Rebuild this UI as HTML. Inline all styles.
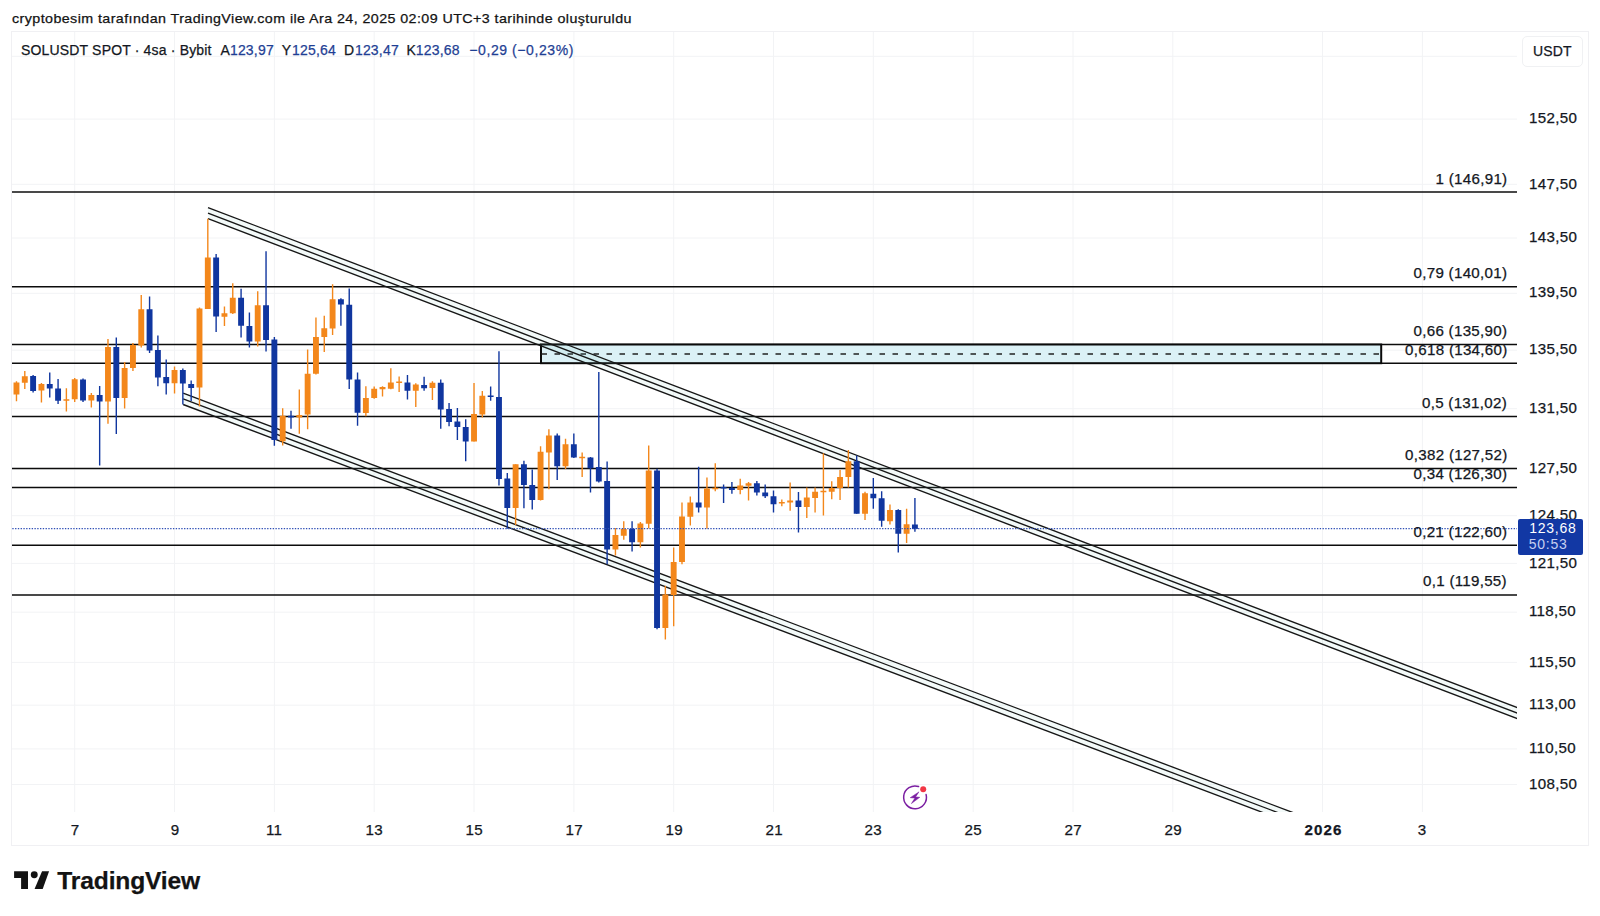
<!DOCTYPE html>
<html lang="tr"><head><meta charset="utf-8"><title>SOLUSDT SPOT</title><style>
html,body{margin:0;padding:0;background:#fff}
body{width:1600px;height:916px;position:relative;overflow:hidden;font-family:"Liberation Sans", Arial, sans-serif;color:#131722}
.t{position:absolute;white-space:nowrap;line-height:16px;font-size:14px;-webkit-text-stroke:0.25px currentColor}
.hdr{font-size:13.6px;letter-spacing:0.4px;color:#131313;transform:scaleX(1.05);transform-origin:0 0}
.leg{font-size:14px;letter-spacing:0.2px}
.t1{letter-spacing:0.17px}
.chg{letter-spacing:0.58px}
.k{color:#131722}.b{color:#1f3f94}
.usdt{position:absolute;left:1522.1px;top:36.4px;width:61px;height:30.4px;border:1px solid #f0f1f3;border-radius:5px;box-sizing:border-box;font-size:14px;line-height:29.4px;text-align:center;letter-spacing:0.1px;color:#131722;-webkit-text-stroke:0.25px currentColor;text-indent:-0.5px}
.pl{font-size:14.4px;letter-spacing:0.3px;color:#131722;transform:scaleX(1.05);transform-origin:0 0}
.fl{font-size:14.4px;letter-spacing:0.28px;color:#131722;text-align:right;transform:scaleX(1.05);transform-origin:right top}
.ptag{position:absolute;left:1518.2px;top:518.9px;width:65.1px;height:36.2px;background:#1238A4;border-radius:2px;color:#fff;font-size:14px;letter-spacing:0.75px}
.ptag .p1{position:absolute;left:11px;top:1px;line-height:16px}
.ptag .p2{position:absolute;left:10.5px;top:17.6px;line-height:16px;color:#c5cff0}
.tl{width:60px;text-align:center;font-size:14.4px;letter-spacing:0.35px;text-indent:0.35px;transform:scaleX(1.05)}
.logo{font-size:24.6px;font-weight:bold;line-height:28px;letter-spacing:-0.15px;color:#131313}
</style></head><body>
<svg width="1600" height="916" viewBox="0 0 1600 916" style="position:absolute;left:0;top:0">
<g stroke="#f2f3f5" stroke-width="1" fill="none">
<path d="M74.7 32 V812"/>
<path d="M174.5 32 V812"/>
<path d="M274.4 32 V812"/>
<path d="M374.2 32 V812"/>
<path d="M474.0 32 V812"/>
<path d="M573.9 32 V812"/>
<path d="M673.7 32 V812"/>
<path d="M773.5 32 V812"/>
<path d="M873.3 32 V812"/>
<path d="M973.2 32 V812"/>
<path d="M1073.0 32 V812"/>
<path d="M1172.8 32 V812"/>
<path d="M1322.5 32 V812"/>
<path d="M1422.4 32 V812"/>
<path d="M12 56.3 H1517"/>
<path d="M12 119.1 H1517"/>
<path d="M12 184.3 H1517"/>
<path d="M12 238.0 H1517"/>
<path d="M12 293.3 H1517"/>
<path d="M12 350.2 H1517"/>
<path d="M12 408.7 H1517"/>
<path d="M12 469.1 H1517"/>
<path d="M12 515.7 H1517"/>
<path d="M12 563.4 H1517"/>
<path d="M12 612.2 H1517"/>
<path d="M12 662.4 H1517"/>
<path d="M12 705.2 H1517"/>
<path d="M12 748.9 H1517"/>
<path d="M12 784.5 H1517"/>
</g>
<rect x="11.5" y="31.5" width="1577" height="814" fill="none" stroke="#f0f0f3" stroke-width="1"/>
<defs><clipPath id="pane"><rect x="12" y="32" width="1505" height="780"/></clipPath></defs>
<g clip-path="url(#pane)">
<g stroke="#0c0c0c" stroke-width="1.5">
<path d="M12 192.1 H1517"/>
<path d="M12 286.7 H1517"/>
<path d="M12 344.5 H1517"/>
<path d="M12 363.3 H1517"/>
<path d="M12 416.6 H1517"/>
<path d="M12 468.4 H1517"/>
<path d="M12 487.5 H1517"/>
<path d="M12 545.3 H1517"/>
<path d="M12 595.0 H1517"/>
</g>
<rect x="541" y="344.5" width="840.2" height="18.7" fill="#DBF1F6" stroke="#0a0a0a" stroke-width="2"/>
<path d="M541.5 354 H1380" stroke="#222" stroke-width="1.5" stroke-dasharray="5.5 7.5" fill="none"/>
<path d="M208.00 207.55 L1530.00 712.49 L1530.00 723.54 L208.00 218.60 Z" fill="#7fc4b8" fill-opacity="0.09" stroke="none"/>
<path d="M208.00 207.55 L1530.00 712.49" stroke="#161616" stroke-width="1.35" fill="none"/>
<path d="M208.00 213.10 L1530.00 718.04" stroke="#161616" stroke-width="1.35" fill="none"/>
<path d="M208.00 218.60 L1530.00 723.54" stroke="#161616" stroke-width="1.35" fill="none"/>
<path d="M183.15 393.15 L1320.00 822.77 L1320.00 834.12 L183.15 404.50 Z" fill="#7fc4b8" fill-opacity="0.09" stroke="none"/>
<path d="M183.15 393.15 L1320.00 822.77" stroke="#161616" stroke-width="1.35" fill="none"/>
<path d="M183.15 398.90 L1320.00 828.52" stroke="#161616" stroke-width="1.35" fill="none"/>
<path d="M183.15 404.50 L1320.00 834.12" stroke="#161616" stroke-width="1.35" fill="none"/>
<path d="M16.47 381.25 V401.25" stroke="#F3871B" stroke-width="1.4"/>
<rect x="13.52" y="382.50" width="5.90" height="12.00" fill="#F3871B"/>
<path d="M24.79 371.00 V389.00" stroke="#F3871B" stroke-width="1.4"/>
<rect x="21.84" y="376.25" width="5.90" height="6.50" fill="#F3871B"/>
<path d="M33.11 375.00 V392.50" stroke="#10369F" stroke-width="1.4"/>
<rect x="30.16" y="376.00" width="5.90" height="15.00" fill="#10369F"/>
<path d="M41.43 383.00 V402.50" stroke="#F3871B" stroke-width="1.4"/>
<rect x="38.48" y="384.00" width="5.90" height="6.50" fill="#F3871B"/>
<path d="M49.75 372.50 V397.50" stroke="#10369F" stroke-width="1.4"/>
<rect x="46.80" y="384.00" width="5.90" height="4.50" fill="#10369F"/>
<path d="M58.07 379.00 V404.00" stroke="#10369F" stroke-width="1.4"/>
<rect x="55.12" y="388.50" width="5.90" height="12.25" fill="#10369F"/>
<path d="M66.38 388.25 V411.50" stroke="#F3871B" stroke-width="1.4"/>
<rect x="63.43" y="399.25" width="5.90" height="1.50" fill="#F3871B"/>
<path d="M74.70 378.00 V402.00" stroke="#F3871B" stroke-width="1.4"/>
<rect x="71.75" y="379.25" width="5.90" height="20.00" fill="#F3871B"/>
<path d="M83.02 378.50 V402.00" stroke="#10369F" stroke-width="1.4"/>
<rect x="80.07" y="379.50" width="5.90" height="21.00" fill="#10369F"/>
<path d="M91.34 393.00 V407.50" stroke="#F3871B" stroke-width="1.4"/>
<rect x="88.39" y="395.00" width="5.90" height="5.50" fill="#F3871B"/>
<path d="M99.66 386.00 V465.50" stroke="#10369F" stroke-width="1.4"/>
<rect x="96.71" y="395.00" width="5.90" height="6.50" fill="#10369F"/>
<path d="M107.98 339.00 V423.75" stroke="#F3871B" stroke-width="1.4"/>
<rect x="105.03" y="347.00" width="5.90" height="54.50" fill="#F3871B"/>
<path d="M116.30 337.50 V434.00" stroke="#10369F" stroke-width="1.4"/>
<rect x="113.35" y="347.00" width="5.90" height="51.00" fill="#10369F"/>
<path d="M124.62 362.00 V408.50" stroke="#F3871B" stroke-width="1.4"/>
<rect x="121.67" y="368.00" width="5.90" height="30.00" fill="#F3871B"/>
<path d="M132.94 343.00 V371.00" stroke="#F3871B" stroke-width="1.4"/>
<rect x="129.99" y="345.00" width="5.90" height="23.00" fill="#F3871B"/>
<path d="M141.25 295.00 V347.50" stroke="#F3871B" stroke-width="1.4"/>
<rect x="138.31" y="309.25" width="5.90" height="36.25" fill="#F3871B"/>
<path d="M149.57 296.50 V353.00" stroke="#10369F" stroke-width="1.4"/>
<rect x="146.62" y="309.25" width="5.90" height="41.25" fill="#10369F"/>
<path d="M157.89 335.50 V386.25" stroke="#10369F" stroke-width="1.4"/>
<rect x="154.94" y="350.00" width="5.90" height="27.50" fill="#10369F"/>
<path d="M166.21 359.50 V394.50" stroke="#10369F" stroke-width="1.4"/>
<rect x="163.26" y="377.00" width="5.90" height="6.25" fill="#10369F"/>
<path d="M174.53 366.50 V393.50" stroke="#F3871B" stroke-width="1.4"/>
<rect x="171.58" y="370.00" width="5.90" height="13.25" fill="#F3871B"/>
<path d="M182.85 368.50 V404.50" stroke="#10369F" stroke-width="1.4"/>
<rect x="179.90" y="370.00" width="5.90" height="13.50" fill="#10369F"/>
<path d="M191.17 380.50 V401.00" stroke="#10369F" stroke-width="1.4"/>
<rect x="188.22" y="384.00" width="5.90" height="4.00" fill="#10369F"/>
<path d="M199.49 307.50 V406.50" stroke="#F3871B" stroke-width="1.4"/>
<rect x="196.54" y="308.50" width="5.90" height="79.00" fill="#F3871B"/>
<path d="M207.81 218.75 V309.00" stroke="#F3871B" stroke-width="1.4"/>
<rect x="204.86" y="257.50" width="5.90" height="51.50" fill="#F3871B"/>
<path d="M216.13 254.00 V332.00" stroke="#10369F" stroke-width="1.4"/>
<rect x="213.18" y="257.50" width="5.90" height="59.00" fill="#10369F"/>
<path d="M224.45 306.50 V326.00" stroke="#F3871B" stroke-width="1.4"/>
<rect x="221.50" y="313.25" width="5.90" height="3.50" fill="#F3871B"/>
<path d="M232.76 283.25 V314.00" stroke="#F3871B" stroke-width="1.4"/>
<rect x="229.81" y="297.75" width="5.90" height="15.50" fill="#F3871B"/>
<path d="M241.08 288.75 V337.50" stroke="#10369F" stroke-width="1.4"/>
<rect x="238.13" y="297.75" width="5.90" height="28.00" fill="#10369F"/>
<path d="M249.40 312.50 V347.50" stroke="#10369F" stroke-width="1.4"/>
<rect x="246.45" y="326.00" width="5.90" height="15.50" fill="#10369F"/>
<path d="M257.72 291.25 V346.50" stroke="#F3871B" stroke-width="1.4"/>
<rect x="254.77" y="305.25" width="5.90" height="36.25" fill="#F3871B"/>
<path d="M266.04 251.25 V351.50" stroke="#10369F" stroke-width="1.4"/>
<rect x="263.09" y="305.25" width="5.90" height="34.75" fill="#10369F"/>
<path d="M274.36 337.00 V445.75" stroke="#10369F" stroke-width="1.4"/>
<rect x="271.41" y="339.50" width="5.90" height="100.50" fill="#10369F"/>
<path d="M282.68 408.25 V445.50" stroke="#F3871B" stroke-width="1.4"/>
<rect x="279.73" y="415.75" width="5.90" height="25.50" fill="#F3871B"/>
<path d="M291.00 410.75 V428.75" stroke="#10369F" stroke-width="1.4"/>
<rect x="288.05" y="415.75" width="5.90" height="1.75" fill="#10369F"/>
<path d="M299.32 389.50 V433.75" stroke="#F3871B" stroke-width="1.4"/>
<rect x="296.37" y="415.00" width="5.90" height="2.50" fill="#F3871B"/>
<path d="M307.63 349.50 V429.25" stroke="#F3871B" stroke-width="1.4"/>
<rect x="304.69" y="373.75" width="5.90" height="40.75" fill="#F3871B"/>
<path d="M315.95 317.50 V374.50" stroke="#F3871B" stroke-width="1.4"/>
<rect x="313.00" y="337.00" width="5.90" height="36.75" fill="#F3871B"/>
<path d="M324.27 315.75 V352.00" stroke="#F3871B" stroke-width="1.4"/>
<rect x="321.32" y="328.25" width="5.90" height="8.75" fill="#F3871B"/>
<path d="M332.59 284.25 V335.00" stroke="#F3871B" stroke-width="1.4"/>
<rect x="329.64" y="299.25" width="5.90" height="29.25" fill="#F3871B"/>
<path d="M340.91 298.25 V325.75" stroke="#10369F" stroke-width="1.4"/>
<rect x="337.96" y="299.25" width="5.90" height="5.25" fill="#10369F"/>
<path d="M349.23 288.50 V389.00" stroke="#10369F" stroke-width="1.4"/>
<rect x="346.28" y="304.75" width="5.90" height="74.75" fill="#10369F"/>
<path d="M357.55 372.50 V425.75" stroke="#10369F" stroke-width="1.4"/>
<rect x="354.60" y="379.50" width="5.90" height="33.25" fill="#10369F"/>
<path d="M365.87 386.25 V416.25" stroke="#F3871B" stroke-width="1.4"/>
<rect x="362.92" y="398.00" width="5.90" height="15.00" fill="#F3871B"/>
<path d="M374.19 386.50 V398.75" stroke="#F3871B" stroke-width="1.4"/>
<rect x="371.24" y="388.75" width="5.90" height="9.25" fill="#F3871B"/>
<path d="M382.51 386.25 V396.50" stroke="#F3871B" stroke-width="1.4"/>
<rect x="379.56" y="387.00" width="5.90" height="2.25" fill="#F3871B"/>
<path d="M390.83 368.25 V389.25" stroke="#F3871B" stroke-width="1.4"/>
<rect x="387.88" y="382.50" width="5.90" height="6.25" fill="#F3871B"/>
<path d="M399.14 376.50 V392.00" stroke="#F3871B" stroke-width="1.4"/>
<rect x="396.19" y="381.50" width="5.90" height="1.50" fill="#F3871B"/>
<path d="M407.46 375.00 V399.50" stroke="#10369F" stroke-width="1.4"/>
<rect x="404.51" y="382.50" width="5.90" height="8.25" fill="#10369F"/>
<path d="M415.78 383.25 V407.00" stroke="#F3871B" stroke-width="1.4"/>
<rect x="412.83" y="384.50" width="5.90" height="6.25" fill="#F3871B"/>
<path d="M424.10 376.75 V390.75" stroke="#10369F" stroke-width="1.4"/>
<rect x="421.15" y="385.00" width="5.90" height="3.25" fill="#10369F"/>
<path d="M432.42 381.25 V400.00" stroke="#F3871B" stroke-width="1.4"/>
<rect x="429.47" y="382.75" width="5.90" height="5.25" fill="#F3871B"/>
<path d="M440.74 379.50 V428.75" stroke="#10369F" stroke-width="1.4"/>
<rect x="437.79" y="382.75" width="5.90" height="26.75" fill="#10369F"/>
<path d="M449.06 403.00 V426.25" stroke="#10369F" stroke-width="1.4"/>
<rect x="446.11" y="409.00" width="5.90" height="13.00" fill="#10369F"/>
<path d="M457.38 408.00 V440.00" stroke="#10369F" stroke-width="1.4"/>
<rect x="454.43" y="421.50" width="5.90" height="5.50" fill="#10369F"/>
<path d="M465.70 419.25 V461.25" stroke="#10369F" stroke-width="1.4"/>
<rect x="462.75" y="427.00" width="5.90" height="14.50" fill="#10369F"/>
<path d="M474.02 383.00 V441.50" stroke="#F3871B" stroke-width="1.4"/>
<rect x="471.07" y="414.00" width="5.90" height="27.50" fill="#F3871B"/>
<path d="M482.33 391.00 V417.50" stroke="#F3871B" stroke-width="1.4"/>
<rect x="479.38" y="395.75" width="5.90" height="18.75" fill="#F3871B"/>
<path d="M490.65 386.50 V400.75" stroke="#10369F" stroke-width="1.4"/>
<rect x="487.70" y="395.50" width="5.90" height="1.50" fill="#10369F"/>
<path d="M498.97 351.25 V485.50" stroke="#10369F" stroke-width="1.4"/>
<rect x="496.02" y="397.00" width="5.90" height="82.00" fill="#10369F"/>
<path d="M507.29 473.00 V528.75" stroke="#10369F" stroke-width="1.4"/>
<rect x="504.34" y="478.50" width="5.90" height="29.50" fill="#10369F"/>
<path d="M515.61 464.25 V525.00" stroke="#F3871B" stroke-width="1.4"/>
<rect x="512.66" y="464.25" width="5.90" height="43.75" fill="#F3871B"/>
<path d="M523.93 460.75 V508.25" stroke="#10369F" stroke-width="1.4"/>
<rect x="520.98" y="464.25" width="5.90" height="20.75" fill="#10369F"/>
<path d="M532.25 469.50 V509.50" stroke="#10369F" stroke-width="1.4"/>
<rect x="529.30" y="485.00" width="5.90" height="15.00" fill="#10369F"/>
<path d="M540.57 446.25 V500.50" stroke="#F3871B" stroke-width="1.4"/>
<rect x="537.62" y="451.75" width="5.90" height="48.25" fill="#F3871B"/>
<path d="M548.89 429.25 V489.25" stroke="#F3871B" stroke-width="1.4"/>
<rect x="545.94" y="435.50" width="5.90" height="17.00" fill="#F3871B"/>
<path d="M557.21 433.50 V480.00" stroke="#10369F" stroke-width="1.4"/>
<rect x="554.25" y="435.50" width="5.90" height="30.75" fill="#10369F"/>
<path d="M565.52 438.75 V469.00" stroke="#F3871B" stroke-width="1.4"/>
<rect x="562.57" y="444.25" width="5.90" height="22.00" fill="#F3871B"/>
<path d="M573.84 433.50 V458.00" stroke="#10369F" stroke-width="1.4"/>
<rect x="570.89" y="444.25" width="5.90" height="13.25" fill="#10369F"/>
<path d="M582.16 452.50 V477.00" stroke="#F3871B" stroke-width="1.4"/>
<rect x="579.21" y="456.75" width="5.90" height="1.50" fill="#F3871B"/>
<path d="M590.48 457.00 V492.50" stroke="#10369F" stroke-width="1.4"/>
<rect x="587.53" y="457.50" width="5.90" height="10.75" fill="#10369F"/>
<path d="M598.80 372.00 V482.50" stroke="#10369F" stroke-width="1.4"/>
<rect x="595.85" y="467.00" width="5.90" height="14.50" fill="#10369F"/>
<path d="M607.12 461.50 V564.25" stroke="#10369F" stroke-width="1.4"/>
<rect x="604.17" y="481.00" width="5.90" height="68.50" fill="#10369F"/>
<path d="M615.44 528.00 V555.50" stroke="#F3871B" stroke-width="1.4"/>
<rect x="612.49" y="535.00" width="5.90" height="14.50" fill="#F3871B"/>
<path d="M623.76 521.25 V539.75" stroke="#F3871B" stroke-width="1.4"/>
<rect x="620.81" y="529.00" width="5.90" height="6.75" fill="#F3871B"/>
<path d="M632.08 521.25 V551.50" stroke="#10369F" stroke-width="1.4"/>
<rect x="629.13" y="528.75" width="5.90" height="13.50" fill="#10369F"/>
<path d="M640.40 522.00 V547.50" stroke="#F3871B" stroke-width="1.4"/>
<rect x="637.45" y="523.50" width="5.90" height="18.75" fill="#F3871B"/>
<path d="M648.71 445.50 V528.50" stroke="#F3871B" stroke-width="1.4"/>
<rect x="645.76" y="470.50" width="5.90" height="53.25" fill="#F3871B"/>
<path d="M657.03 468.75 V629.25" stroke="#10369F" stroke-width="1.4"/>
<rect x="654.08" y="470.50" width="5.90" height="157.50" fill="#10369F"/>
<path d="M665.35 585.75 V639.50" stroke="#F3871B" stroke-width="1.4"/>
<rect x="662.40" y="594.50" width="5.90" height="33.50" fill="#F3871B"/>
<path d="M673.67 547.50 V626.25" stroke="#F3871B" stroke-width="1.4"/>
<rect x="670.72" y="562.00" width="5.90" height="33.00" fill="#F3871B"/>
<path d="M681.99 502.50 V564.25" stroke="#F3871B" stroke-width="1.4"/>
<rect x="679.04" y="516.50" width="5.90" height="45.50" fill="#F3871B"/>
<path d="M690.31 496.50 V525.50" stroke="#F3871B" stroke-width="1.4"/>
<rect x="687.36" y="502.50" width="5.90" height="14.25" fill="#F3871B"/>
<path d="M698.63 466.75 V512.50" stroke="#10369F" stroke-width="1.4"/>
<rect x="695.68" y="502.50" width="5.90" height="5.00" fill="#10369F"/>
<path d="M706.95 477.50 V528.75" stroke="#F3871B" stroke-width="1.4"/>
<rect x="704.00" y="488.50" width="5.90" height="19.00" fill="#F3871B"/>
<path d="M715.27 463.25 V491.25" stroke="#F3871B" stroke-width="1.4"/>
<rect x="712.32" y="487.75" width="5.90" height="1.50" fill="#F3871B"/>
<path d="M723.59 484.50 V503.00" stroke="#10369F" stroke-width="1.4"/>
<rect x="720.64" y="487.00" width="5.90" height="1.50" fill="#10369F"/>
<path d="M731.90 482.00 V493.75" stroke="#10369F" stroke-width="1.4"/>
<rect x="728.95" y="488.00" width="5.90" height="2.00" fill="#10369F"/>
<path d="M740.22 478.75 V494.25" stroke="#F3871B" stroke-width="1.4"/>
<rect x="737.27" y="485.50" width="5.90" height="4.50" fill="#F3871B"/>
<path d="M748.54 482.00 V500.50" stroke="#F3871B" stroke-width="1.4"/>
<rect x="745.59" y="483.25" width="5.90" height="2.50" fill="#F3871B"/>
<path d="M756.86 481.00 V495.50" stroke="#10369F" stroke-width="1.4"/>
<rect x="753.91" y="483.25" width="5.90" height="9.25" fill="#10369F"/>
<path d="M765.18 484.50 V498.00" stroke="#10369F" stroke-width="1.4"/>
<rect x="762.23" y="492.50" width="5.90" height="3.75" fill="#10369F"/>
<path d="M773.50 490.50 V512.50" stroke="#10369F" stroke-width="1.4"/>
<rect x="770.55" y="496.25" width="5.90" height="8.00" fill="#10369F"/>
<path d="M781.82 499.50 V506.25" stroke="#F3871B" stroke-width="1.4"/>
<rect x="778.87" y="502.00" width="5.90" height="1.50" fill="#F3871B"/>
<path d="M790.14 482.50 V510.75" stroke="#F3871B" stroke-width="1.4"/>
<rect x="787.19" y="500.50" width="5.90" height="2.00" fill="#F3871B"/>
<path d="M798.46 492.00 V532.50" stroke="#10369F" stroke-width="1.4"/>
<rect x="795.51" y="500.50" width="5.90" height="6.50" fill="#10369F"/>
<path d="M806.78 487.50 V518.00" stroke="#F3871B" stroke-width="1.4"/>
<rect x="803.83" y="497.50" width="5.90" height="9.50" fill="#F3871B"/>
<path d="M815.09 487.50 V512.50" stroke="#F3871B" stroke-width="1.4"/>
<rect x="812.14" y="491.75" width="5.90" height="6.25" fill="#F3871B"/>
<path d="M823.41 453.25 V515.50" stroke="#F3871B" stroke-width="1.4"/>
<rect x="820.46" y="490.75" width="5.90" height="1.50" fill="#F3871B"/>
<path d="M831.73 481.25 V499.25" stroke="#F3871B" stroke-width="1.4"/>
<rect x="828.78" y="488.00" width="5.90" height="3.75" fill="#F3871B"/>
<path d="M840.05 470.00 V500.00" stroke="#F3871B" stroke-width="1.4"/>
<rect x="837.10" y="477.00" width="5.90" height="11.00" fill="#F3871B"/>
<path d="M848.37 450.00 V487.50" stroke="#F3871B" stroke-width="1.4"/>
<rect x="845.42" y="461.25" width="5.90" height="15.75" fill="#F3871B"/>
<path d="M856.69 455.50 V513.75" stroke="#10369F" stroke-width="1.4"/>
<rect x="853.74" y="461.25" width="5.90" height="52.50" fill="#10369F"/>
<path d="M865.01 491.75 V520.00" stroke="#F3871B" stroke-width="1.4"/>
<rect x="862.06" y="493.25" width="5.90" height="20.50" fill="#F3871B"/>
<path d="M873.33 478.00 V508.75" stroke="#10369F" stroke-width="1.4"/>
<rect x="870.38" y="493.75" width="5.90" height="4.50" fill="#10369F"/>
<path d="M881.65 491.25 V526.75" stroke="#10369F" stroke-width="1.4"/>
<rect x="878.70" y="498.25" width="5.90" height="22.50" fill="#10369F"/>
<path d="M889.97 504.50 V524.50" stroke="#F3871B" stroke-width="1.4"/>
<rect x="887.02" y="510.00" width="5.90" height="11.25" fill="#F3871B"/>
<path d="M898.28 509.25 V552.50" stroke="#10369F" stroke-width="1.4"/>
<rect x="895.33" y="510.00" width="5.90" height="23.75" fill="#10369F"/>
<path d="M906.60 508.75 V543.00" stroke="#F3871B" stroke-width="1.4"/>
<rect x="903.65" y="524.25" width="5.90" height="9.50" fill="#F3871B"/>
<path d="M914.92 498.00 V531.75" stroke="#10369F" stroke-width="1.4"/>
<rect x="911.97" y="524.50" width="5.90" height="4.50" fill="#10369F"/>
<path d="M12.3 528.7 H1517" stroke="#3050b6" stroke-width="1.3" stroke-dasharray="1.35 1.42" fill="none"/>
</g>
<path d="M926.11 794.59 A11.40 11.40 0 1 1 918.57 786.51" fill="none" stroke="#7B1FA2" stroke-width="1.5" stroke-linecap="round"/>
<circle cx="923.2" cy="789.3" r="3" fill="#F23645"/>
<path d="M918.9 791.9 L910.2 797.7 L914.9 798.1 L911.4 803.6 L919.8 797.3 L915.6 796.9 Z" fill="#7B1FA2" stroke="#7B1FA2" stroke-width="0.5" stroke-linejoin="round"/>
<g fill="#131313"><path d="M14.1 871.25 H28 V888.9 H21.1 V878.1 H14.1 Z"/><circle cx="34.25" cy="874.7" r="3.45"/><path d="M42.06 871.25 H49.1 L42.7 888.9 H34.56 Z"/></g>
</svg>
<div class="t hdr" style="left:12.3px;top:10.9px">cryptobesim tarafından TradingView.com ile Ara 24, 2025 02:09 UTC+3 tarihinde oluşturuldu</div>
<div class="t leg k t1" style="left:21.0px;top:41.9px">SOLUSDT SPOT · 4sa · Bybit</div>
<div class="t leg k" style="left:220.4px;top:41.9px">A</div>
<div class="t leg b" style="left:229.9px;top:41.9px">123,97</div>
<div class="t leg k" style="left:281.8px;top:41.9px">Y</div>
<div class="t leg b" style="left:292.0px;top:41.9px">125,64</div>
<div class="t leg k" style="left:344.0px;top:41.9px">D</div>
<div class="t leg b" style="left:354.9px;top:41.9px">123,47</div>
<div class="t leg k" style="left:406.5px;top:41.9px">K</div>
<div class="t leg b" style="left:415.8px;top:41.9px">123,68</div>
<div class="t leg b chg" style="left:469.3px;top:41.9px">−0,29 (−0,23%)</div>
<div class="usdt">USDT</div>
<div class="t pl" style="left:1529.2px;top:110.2px">152,50</div>
<div class="t pl" style="left:1529.2px;top:175.5px">147,50</div>
<div class="t pl" style="left:1529.2px;top:229.2px">143,50</div>
<div class="t pl" style="left:1529.2px;top:284.4px">139,50</div>
<div class="t pl" style="left:1529.2px;top:341.3px">135,50</div>
<div class="t pl" style="left:1529.2px;top:399.8px">131,50</div>
<div class="t pl" style="left:1529.2px;top:460.2px">127,50</div>
<div class="t pl" style="left:1529.2px;top:506.9px">124,50</div>
<div class="t pl" style="left:1529.2px;top:554.5px">121,50</div>
<div class="t pl" style="left:1529.2px;top:603.4px">118,50</div>
<div class="t pl" style="left:1529.2px;top:653.5px">115,50</div>
<div class="t pl" style="left:1529.2px;top:696.4px">113,00</div>
<div class="t pl" style="left:1529.2px;top:740.0px">110,50</div>
<div class="t pl" style="left:1529.2px;top:775.6px">108,50</div>
<div class="t fl" style="right:92.7px;top:170.5px">1 (146,91)</div>
<div class="t fl" style="right:92.7px;top:265.1px">0,79 (140,01)</div>
<div class="t fl" style="right:92.7px;top:322.9px">0,66 (135,90)</div>
<div class="t fl" style="right:92.7px;top:341.7px">0,618 (134,60)</div>
<div class="t fl" style="right:92.7px;top:395.0px">0,5 (131,02)</div>
<div class="t fl" style="right:92.7px;top:446.8px">0,382 (127,52)</div>
<div class="t fl" style="right:92.7px;top:465.9px">0,34 (126,30)</div>
<div class="t fl" style="right:92.7px;top:523.7px">0,21 (122,60)</div>
<div class="t fl" style="right:92.7px;top:573.4px">0,1 (119,55)</div>
<div class="ptag"><div class="p1">123,68</div><div class="p2">50:53</div></div>
<div class="t tl" style="left:44.7px;top:821.8px">7</div>
<div class="t tl" style="left:144.5px;top:821.8px">9</div>
<div class="t tl" style="left:244.4px;top:821.8px">11</div>
<div class="t tl" style="left:344.2px;top:821.8px">13</div>
<div class="t tl" style="left:444.0px;top:821.8px">15</div>
<div class="t tl" style="left:543.9px;top:821.8px">17</div>
<div class="t tl" style="left:643.7px;top:821.8px">19</div>
<div class="t tl" style="left:743.5px;top:821.8px">21</div>
<div class="t tl" style="left:843.3px;top:821.8px">23</div>
<div class="t tl" style="left:943.2px;top:821.8px">25</div>
<div class="t tl" style="left:1043.0px;top:821.8px">27</div>
<div class="t tl" style="left:1142.8px;top:821.8px">29</div>
<div class="t tl" style="left:1392.4px;top:821.8px">3</div>
<div class="t tl" style="left:1292.5px;top:821.8px;font-weight:bold;letter-spacing:1.0px;text-indent:1.0px">2026</div>
<div class="t logo" style="left:57.3px;top:866.5px">TradingView</div>
</body></html>
